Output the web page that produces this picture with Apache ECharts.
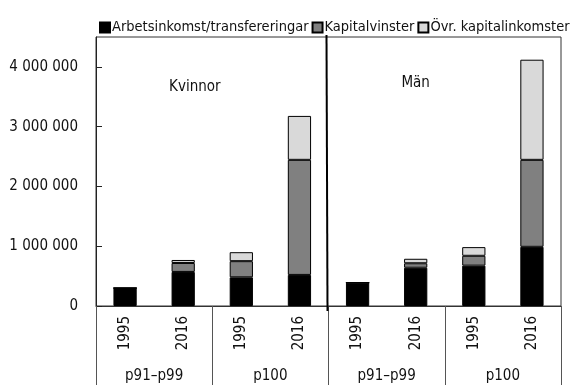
<!DOCTYPE html>
<html>
<head>
<meta charset="utf-8">
<script src="https://cdn.jsdelivr.net/npm/echarts@6/dist/echarts.min.js"></script>
<style>
  html, body { margin: 0; padding: 0; background: #fff; }
  #chart { width: 581px; height: 385px; }
</style>
</head>
<body>
<div id="chart"></div>
<script>
// Years per bar, percentile groups below them
const years = ['1995', '2016', '1995', '2016', '1995', '2016', '1995', '2016'];
const groups = ['p91–p99', 'p100', 'p91–p99', 'p100'];
const panels = ['Kvinnor', 'Män'];

// Income components (kr), Kvinnor first four bars, Män last four
const arbetsinkomst = [300000, 570000, 480000, 520000, 390000, 640000, 675000, 990000];
const kapitalvinster = [0, 150000, 270000, 1925000, 0, 75000, 165000, 1455000];
const ovrKapital = [0, 50000, 150000, 735000, 0, 75000, 145000, 1675000];

const yTicks = [0, 1000000, 2000000, 3000000, 4000000];

const FONT = '"Liberation Sans Narrow", "DejaVu Sans Condensed", sans-serif';

const fmt = v => String(v).replace(/\B(?=(\d{3})+(?!\d))/g, ' ');

const chart = echarts.init(document.getElementById('chart'), null, { renderer: 'canvas' });

const barStyle = color => ({ color: color, borderColor: '#000', borderWidth: 1 });

chart.setOption({
  animation: false,
  textStyle: { fontFamily: FONT, color: '#111' },
  legend: {
    top: 15,
    left: 94,
    width: 560,
    itemWidth: 10,
    itemHeight: 10,
    itemGap: 3,
    icon: 'rect',
    textStyle: { fontFamily: FONT, fontSize: 14.5, color: '#111', padding: [0, 0, 0, -3] },
    data: ['Arbetsinkomst/transfereringar', 'Kapitalvinster', 'Övr. kapitalinkomster']
  },
  grid: {
    left: 96, right: 20, top: 37, bottom: 79,
    show: true, borderColor: '#333', borderWidth: 1, backgroundColor: 'transparent'
  },
  xAxis: [
    {
      type: 'category',
      data: years,
      position: 'bottom',
      axisLine: { lineStyle: { color: '#333', width: 1 } },
      axisTick: { show: false },
      axisLabel: {
        rotate: 90, margin: 10, fontSize: 15, fontFamily: FONT, color: '#111'
      },
      splitLine: { show: false }
    },
    {
      type: 'category',
      data: groups,
      position: 'bottom',
      offset: 0,
      axisLine: { show: false },
      axisTick: {
        show: true, length: 80, inside: false,
        lineStyle: { color: '#555', width: 1 }
      },
      axisLabel: { margin: 63, fontSize: 15, fontFamily: FONT, color: '#111' },
      splitLine: { show: false }
    }
  ],
  yAxis: {
    type: 'value',
    min: yTicks[0],
    max: 4500000,
    interval: yTicks[1] - yTicks[0],
    axisLine: { show: true, lineStyle: { color: '#222', width: 1 } },
    axisTick: { show: true, inside: true, length: 6, lineStyle: { color: '#222' } },
    axisLabel: {
      margin: 18, fontSize: 15, fontFamily: FONT, color: '#111',
      showMaxLabel: false,
      formatter: v => (yTicks.indexOf(v) >= 0 ? fmt(v) : '')
    },
    splitLine: { show: false }
  },
  series: [
    {
      name: 'Arbetsinkomst/transfereringar', type: 'bar', stack: 'tot',
      barWidth: '40%', data: arbetsinkomst, itemStyle: barStyle('#000000')
    },
    {
      name: 'Kapitalvinster', type: 'bar', stack: 'tot',
      barWidth: '40%', data: kapitalvinster, itemStyle: barStyle('#808080')
    },
    {
      name: 'Övr. kapitalinkomster', type: 'bar', stack: 'tot',
      barWidth: '40%', data: ovrKapital, itemStyle: barStyle('#d9d9d9')
    }
  ]
});

// Panel titles and the Kvinnor / Män divider, placed from the axis scales
const leftX = chart.convertToPixel({ xAxisIndex: 0 }, 0);
const stepX = chart.convertToPixel({ xAxisIndex: 0 }, 1) - leftX;
const splitX = leftX + stepX * 3.5 - 2;
const topY = chart.convertToPixel({ yAxisIndex: 0 }, 4500000);
const zeroY = chart.convertToPixel({ yAxisIndex: 0 }, 0);
chart.setOption({
  graphic: [
    {
      type: 'line',
      shape: { x1: splitX, y1: topY - 2, x2: splitX + 1, y2: zeroY + 5 },
      style: { stroke: '#000', lineWidth: 2 },
      z: 10
    },
    {
      type: 'text', x: leftX + stepX * 1.2, y: 87,
      style: { text: panels[0], font: '15px ' + FONT, fill: '#111', align: 'center', verticalAlign: 'middle' }
    },
    {
      type: 'text', x: leftX + stepX * 5.0, y: 83,
      style: { text: panels[1], font: '15px ' + FONT, fill: '#111', align: 'center', verticalAlign: 'middle' }
    }
  ]
});
</script>
</body>
</html>
